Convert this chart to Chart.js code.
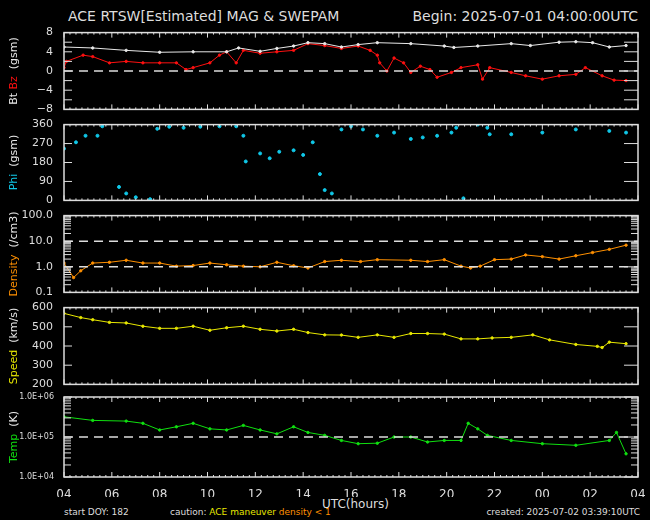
<!DOCTYPE html>
<html>
<head>
<meta charset="utf-8">
<script src="https://cdn.jsdelivr.net/npm/chart.js@4"></script>
<style>
  body { margin:0; background:#000; width:650px; height:520px; overflow:hidden; position:relative; font-family:"DejaVu Sans", sans-serif; color:#ddd; }
  canvas { position:absolute; left:0; }
  .t { position:absolute; white-space:nowrap; }
</style>
</head>
<body>
<div class="t" style="left:68px;top:8px;font-size:14px;">ACE RTSW[Estimated] MAG &amp; SWEPAM</div>
<div class="t" style="right:12px;top:8px;font-size:14px;">Begin: 2025-07-01 04:00:00UTC</div>
<div class="t" style="left:322px;top:497px;font-size:12px;">UTC(hours)</div>
<div class="t" style="left:64px;top:507px;font-size:9px;">start DOY: 182</div>
<div class="t" style="left:170px;top:507px;font-size:9px;">caution: <span style="color:#e8e800">ACE maneuver</span> <span style="color:#ff9000">density &lt; 1</span></div>
<div class="t" style="right:10px;top:507px;font-size:9px;">created: 2025-07-02 03:39:10UTC</div>

<canvas id="c1"></canvas>
<canvas id="c2"></canvas>
<canvas id="c3"></canvas>
<canvas id="c4"></canvas>
<canvas id="c5"></canvas>

<script>
// hours since 2025-07-01 04:00 UTC
var btHours = [0,1.2,2.6,4,5.4,6.8,7.3,8.2,8.9,9.6,10.2,10.9,11.6,12.3,13.1,14.5,15.9,16.3,17.3,18.7,19.5,20.7,21.4,22.1,22.8,23.5];
var btVals  = [5.0,4.8,4.3,3.9,4.0,4.0,4.8,4.1,4.7,5.2,5.9,5.7,5.0,5.5,5.9,5.7,5.2,4.9,5.2,5.7,5.3,6.0,6.1,5.9,5.0,5.3];

var bzHours = [0,0.1,0.8,1.2,1.9,2.6,3.3,4,4.7,5.1,5.4,6.1,6.5,6.8,7.2,7.5,8.2,8.9,9.6,10.2,10.9,11.6,12.3,12.8,13.1,13.2,13.5,13.8,14.2,14.5,14.9,15.3,15.6,16.2,16.6,17.3,17.5,17.8,18.7,19.3,20,20.7,21.4,21.8,22.5,23,23.5];
var bzVals  = [0.7,2.0,3.3,3.0,1.7,2.0,1.7,1.7,1.7,0.3,0.7,1.7,3.3,4.0,1.7,4.3,3.7,4.0,4.3,5.7,5.3,4.7,5.2,4.3,3.3,1.7,0.0,2.7,1.7,-0.3,1.0,0.3,-1.3,-0.3,0.7,1.3,-1.7,0.7,-0.3,-1.0,-1.7,-1.0,-0.7,0.7,-1.0,-1.9,-2.0];

var phiHours = [0,0.5,0.9,1.4,1.6,2.3,2.6,3.0,3.6,3.9,4.4,5.0,5.7,6.5,7.2,7.5,7.6,8.2,8.6,9.0,9.6,10.0,10.4,10.7,10.9,11.2,11.6,12.0,12.5,13.1,13.8,14.5,15.0,15.6,16.2,16.4,16.7,17.3,17.7,17.8,18.7,20.0,21.4,22.8,23.5];
var phiVals  = [246,276,307,307,352,64,33,15,6,340,350,345,350,352,352,307,185,223,200,231,238,216,276,125,49,33,337,352,337,307,322,292,299,307,322,345,10,360,345,314,314,322,337,330,322];

var denHours = [0,0.4,0.7,1.2,1.9,2.6,3.3,4,4.7,5.4,6.1,6.8,7.5,8.2,8.9,9.6,10.2,10.9,11.6,12.4,13.1,14.5,15.2,15.9,16.6,17,17.4,18,18.7,19.3,20,20.7,21.4,22.1,22.8,23.5];
var denVals  = [1.4,0.38,0.7,1.4,1.5,1.8,1.4,1.4,1.06,1.12,1.4,1.2,1.06,1.0,1.5,1.1,0.9,1.6,1.8,1.6,1.9,1.8,1.6,1.9,1.06,0.9,1.06,1.9,2.0,2.9,2.5,2.0,2.7,3.6,4.8,7.0];

var spdHours = [0,0.7,1.2,1.9,2.6,3.3,4,4.7,5.4,6.1,6.8,7.5,8.2,8.9,9.6,10.2,10.9,11.6,12.3,13.1,13.8,14.5,15.2,15.9,16.6,17.3,17.9,18.7,19.6,20.3,21.4,22.3,22.5,22.8,23.5];
var spdVals  = [570,548,537,523,520,503,492,492,503,482,495,503,487,478,487,470,458,457,445,458,445,465,465,462,437,437,442,445,458,432,408,398,392,420,412];

var tmpHours = [0,1.2,2.6,3.3,4,4.7,5.4,6.1,6.8,7.5,8.2,8.9,9.6,10.2,10.9,11.6,12.3,13.1,13.8,14.5,15.2,15.9,16.6,16.9,17.3,17.7,18.7,20,21.4,22.8,23.1,23.5];
var tmpVals  = [3.2e5,2.6e5,2.5e5,2.2e5,1.5e5,1.8e5,2.2e5,1.6e5,1.5e5,1.95e5,1.5e5,1.2e5,1.8e5,1.3e5,1.1e5,8.2e4,6.8e4,7e4,1.0e5,1.0e5,7.5e4,8.2e4,8.2e4,2.2e5,1.6e5,1.1e5,8.2e4,6.8e4,6.2e4,8.2e4,1.3e5,3.8e4];

var xTickLabels = ['04','06','08','10','12','14','16','18','20','22','00','02','04'];

const FG = '#dddddd';
const pts = (h, v) => h.map((x, i) => ({x: x, y: v[i]}));

// frame, inward ticks, dashed reference lines, coloured y title
const framePlugin = {
    id: 'frame',
    afterDatasetsDraw(chart, args, o) {
        const ctx = chart.ctx, a = chart.chartArea;
        const xs = chart.scales.x, ys = chart.scales.y;
        ctx.save();
        ctx.strokeStyle = FG;
        ctx.lineWidth = 1.5;
        ctx.setLineDash([]);
        ctx.strokeRect(a.left, a.top, a.right - a.left, a.bottom - a.top);
        ctx.lineWidth = 1;
        // x ticks top & bottom
        for (let h = 0; h <= 24.001; h += 0.25) {
            const px = xs.getPixelForValue(h);
            const len = (Math.abs(h % 2) < 0.01) ? 5 : 2;
            ctx.beginPath();
            ctx.moveTo(px, a.top); ctx.lineTo(px, a.top + len);
            ctx.moveTo(px, a.bottom); ctx.lineTo(px, a.bottom - len);
            ctx.stroke();
        }
        // y ticks
        (o.major || []).forEach(v => {
            const py = ys.getPixelForValue(v);
            ctx.beginPath();
            ctx.moveTo(a.left, py); ctx.lineTo(a.left + 8, py);
            ctx.moveTo(a.right, py); ctx.lineTo(a.right - 14, py);
            ctx.stroke();
        });
        (o.minor || []).forEach(v => {
            const py = ys.getPixelForValue(v);
            ctx.beginPath();
            ctx.moveTo(a.left, py); ctx.lineTo(a.left + 7, py);
            ctx.moveTo(a.right, py); ctx.lineTo(a.right - 7, py);
            ctx.stroke();
        });
        // dashed lines
        ctx.setLineDash([9, 6]);
        ctx.lineWidth = 1.5;
        (o.dashed || []).forEach(v => {
            const py = ys.getPixelForValue(v);
            ctx.beginPath(); ctx.moveTo(a.left, py); ctx.lineTo(a.right, py); ctx.stroke();
        });
        // y title
        ctx.setLineDash([]);
        ctx.translate(14, (a.top + a.bottom) / 2);
        ctx.rotate(-Math.PI / 2);
        ctx.font = '11px "DejaVu Sans"';
        ctx.textBaseline = 'middle';
        let total = 0;
        o.title.forEach(p => total += ctx.measureText(p[0]).width);
        let x = -total / 2;
        o.title.forEach(p => {
            ctx.fillStyle = p[1];
            ctx.fillText(p[0], x, 0);
            x += ctx.measureText(p[0]).width;
        });
        ctx.restore();
    }
};

function makePanel(id, top, height, datasets, yOpts, frameOpts, showX) {
    const cv = document.getElementById(id);
    const padT = 8, padB = showX ? 20 : 8;
    const xAxisH = showX ? 20 : 0;
    cv.style.top = (top - padT) + 'px';
    cv.width = 650;
    cv.height = height + padT + padB + xAxisH;
    cv.style.width = '650px';
    cv.style.height = cv.height + 'px';
    new Chart(cv.getContext('2d'), {
        type: 'scatter',
        data: { datasets: datasets },
        options: {
            responsive: false,
            animation: false,
            events: [],
            layout: { padding: { left: 4, right: 12, top: padT, bottom: padB } },
            plugins: { legend: { display: false }, tooltip: { enabled: false }, frame: frameOpts },
            scales: {
                x: {
                    type: 'linear', min: 0, max: 24,
                    display: showX,
                    grid: { display: false },
                    border: { display: false },
                    afterFit: s => { s.height = xAxisH; },
                    afterBuildTicks: s => { s.ticks = xTickLabels.map((l, i) => ({ value: i * 2 })); },
                    ticks: {
                        color: FG, font: { family: 'DejaVu Sans', size: 12 }, padding: 3, maxRotation: 0,
                        callback: (v, i) => xTickLabels[i]
                    }
                },
                y: Object.assign({
                    grid: { display: false },
                    border: { display: false },
                    afterFit: s => { s.width = 60; },
                }, yOpts)
            }
        },
        plugins: [framePlugin]
    });
}

const tickFont = { family: 'DejaVu Sans', size: 11 };
function ds(h, v, c, line) {
    return { data: pts(h, v), borderColor: c, backgroundColor: c, pointRadius: 1.2,
             showLine: line, borderWidth: 1, tension: 0 };
}
function logMinor(lo, hi) {
    const out = [];
    for (let d = lo; d < hi; d *= 10) for (let k = 2; k <= 9; k++) out.push(d * k);
    return out;
}

makePanel('c1', 31, 80, [ds(btHours, btVals, '#e8e8e8', true), ds(bzHours, bzVals, '#ff1010', true)],
    { min: -8, max: 8,
      afterBuildTicks: s => { s.ticks = [-8,-6,-4,-2,0,2,4,6,8].map(v => ({ value: v })); },
      ticks: { color: FG, font: tickFont, padding: 3, callback: v => v < 0 ? '\u2212' + (-v) : v } },
    { major: [-8,-6,-4,-2,0,2,4,6,8], minor: [], dashed: [0],
      title: [['Bt ', '#e8e8e8'], ['Bz', '#ff1010'], ['  (gsm)', '#e8e8e8']] }, false);

makePanel('c2', 123, 79, [Object.assign(ds(phiHours, phiVals, '#10c8e8', false), { pointRadius: 1.5 })],
    { min: 0, max: 360,
      afterBuildTicks: s => { s.ticks = [0,90,180,270,360].map(v => ({ value: v })); },
      ticks: { color: FG, font: tickFont, padding: 3 } },
    { major: [0,90,180,270,360], minor: [], dashed: [],
      title: [['Phi', '#10c8e8'], ['  (gsm)', '#e8e8e8']] }, false);

makePanel('c3', 214, 80, [ds(denHours, denVals, '#ff9000', true)],
    { type: 'logarithmic', min: 0.1, max: 100,
      afterBuildTicks: s => { s.ticks = [0.1,1,10,100].map(v => ({ value: v })); },
      ticks: { color: FG, font: tickFont, padding: 3, callback: v => Number(v).toFixed(1) } },
    { major: [0.1,1,10,100], minor: logMinor(0.1, 100), dashed: [1, 10],
      title: [['Density', '#ff9000'], ['  (/cm3)', '#e8e8e8']] }, false);

makePanel('c4', 306, 80, [ds(spdHours, spdVals, '#e8e800', true)],
    { min: 200, max: 600,
      afterBuildTicks: s => { s.ticks = [200,300,400,500,600].map(v => ({ value: v })); },
      ticks: { color: FG, font: tickFont, padding: 3 } },
    { major: [200,300,400,500,600], minor: [], dashed: [],
      title: [['Speed', '#e8e800'], ['  (km/s)', '#e8e8e8']] }, false);

makePanel('c5', 397, 80, [ds(tmpHours, tmpVals, '#10e010', true)],
    { type: 'logarithmic', min: 1e4, max: 1e6,
      afterBuildTicks: s => { s.ticks = [1e4,1e5,1e6].map(v => ({ value: v })); },
      ticks: { color: FG, font: { family: 'DejaVu Sans', size: 8 }, padding: 2,
               callback: v => '1.0E+0' + Math.round(Math.log10(v)) } },
    { major: [1e4,1e5,1e6], minor: logMinor(1e4, 1e6), dashed: [1e5],
      title: [['Temp', '#10e010'], ['  (K)', '#e8e8e8']] }, true);
</script>
</body>
</html>
